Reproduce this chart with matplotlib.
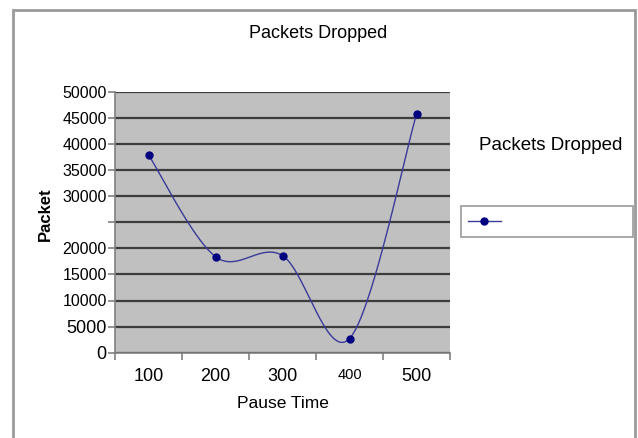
import numpy as np
import matplotlib
matplotlib.use("Agg")
import matplotlib.pyplot as plt
from matplotlib.lines import Line2D
from matplotlib.patches import Rectangle

# --- DATA ---
pause_time = ["100", "200", "300", "400", "500"]
packets_dropped = [37900, 18400, 18600, 2700, 45700]
y_ticks = [0, 5000, 10000, 15000, 20000, 25000, 30000, 35000, 40000, 45000, 50000]
y_tick_labels = ["0", "5000", "10000", "15000", "20000", "", "30000", "35000", "40000", "45000", "50000"]

NARROW = ["Liberation Sans Narrow", "Liberation Sans", "DejaVu Sans"]
REGULAR = ["Liberation Sans", "DejaVu Sans"]
LINE_COLOR = "#000080"


def smooth_curve(xs, ys, steps=40):
    # piecewise cubic bezier through the points (catmull-rom style tangents)
    p = np.column_stack([xs, ys]).astype(float)
    n = len(p)
    out = []
    for i in range(n - 1):
        p0 = p[max(i - 1, 0)]
        p1 = p[i]
        p2 = p[i + 1]
        p3 = p[min(i + 2, n - 1)]
        c1 = p1 + (p2 - p0) / 6.0
        c2 = p2 - (p3 - p1) / 6.0
        t = np.linspace(0, 1, steps)[:, None]
        seg = ((1 - t) ** 3) * p1 + 3 * ((1 - t) ** 2) * t * c1 + 3 * (1 - t) * t ** 2 * c2 + t ** 3 * p2
        out.append(seg if i == 0 else seg[1:])
    out = np.vstack(out)
    return out[:, 0], out[:, 1]


fig = plt.figure(figsize=(6.38, 4.38), dpi=100)
fig.patch.set_facecolor("white")

# chart frame
fig.patches.append(Rectangle((13 / 638, -0.05), (635 - 13) / 638, 1.05 - 10 / 438,
                             transform=fig.transFigure, fill=False,
                             edgecolor="#9a9a9a", linewidth=2.0))

ax = fig.add_axes([115 / 638, 1 - 352.7 / 438, 335 / 638, 261 / 438])
ax.set_facecolor("#c0c0c0")

x = np.arange(len(pause_time))
sx, sy = smooth_curve(x, packets_dropped)
ax.plot(sx, sy, color="#3a3a9a", linewidth=1.0, zorder=3)
ax.plot(x, packets_dropped, linestyle="none", marker="o", markersize=5,
        color=LINE_COLOR, zorder=4)

ax.set_xlim(-0.5, len(pause_time) - 0.5)
ax.set_ylim(0, 50000)

ax.set_yticks(y_ticks)
ax.set_yticklabels(y_tick_labels)
ax.grid(axis="y", color="#3c3c3c", linewidth=1.6)
ax.set_axisbelow(True)

# category ticks sit on the boundaries, labels in the middle
ax.set_xticks(x)
ax.set_xticklabels(pause_time)
ax.set_xticks(np.arange(len(pause_time) + 1) - 0.5, minor=True)
ax.tick_params(axis="x", which="major", length=0, pad=11, labelsize=13)
ax.tick_params(axis="x", which="minor", length=5, color="#808080", width=1.2)
ax.tick_params(axis="y", length=5, color="#808080", width=1.2, pad=1, labelsize=11.5)

for lab in ax.get_xticklabels():
    lab.set_fontfamily(REGULAR)
    if lab.get_text() == "400":
        lab.set_fontfamily(NARROW)
        lab.set_fontsize(10.5)
for lab in ax.get_yticklabels():
    lab.set_fontfamily(NARROW)
    if lab.get_text() in ("0", "5000"):
        lab.set_fontfamily(REGULAR)
        lab.set_fontsize(13)

for side in ("top", "right"):
    ax.spines[side].set_visible(False)
for side in ("left", "bottom"):
    ax.spines[side].set_color("#808080")
    ax.spines[side].set_linewidth(1.2)

ax.set_xlabel("Pause Time", fontsize=12.5, family=NARROW, labelpad=8)
ax.set_ylabel("Packet", fontsize=12, fontweight="bold", family=REGULAR)
ax.yaxis.set_label_coords(-0.185, 0.53)

fig.text(318 / 638, 1 - 33 / 438, "Packets Dropped", ha="center", va="center",
         fontsize=13, family=REGULAR)

# legend
fig.text(551 / 638, 1 - 146 / 438, "Packets Dropped", ha="center", va="center",
         fontsize=13.5, family=REGULAR)
handle = Line2D([], [], color="#3a3a9a", linewidth=1.0, marker="o",
                markersize=5, markerfacecolor=LINE_COLOR, markeredgecolor=LINE_COLOR)
leg = fig.legend([handle], [""], loc="upper left",
                 bbox_to_anchor=(461 / 638, 1 - 206 / 438, 172 / 638, 0.0),
                 mode="expand", borderaxespad=0, fontsize=12, handlelength=2.0,
                 fancybox=False, frameon=True)
leg.get_frame().set_edgecolor("#808080")
leg.get_frame().set_linewidth(1.2)

fig.savefig("out.png", dpi=100)
